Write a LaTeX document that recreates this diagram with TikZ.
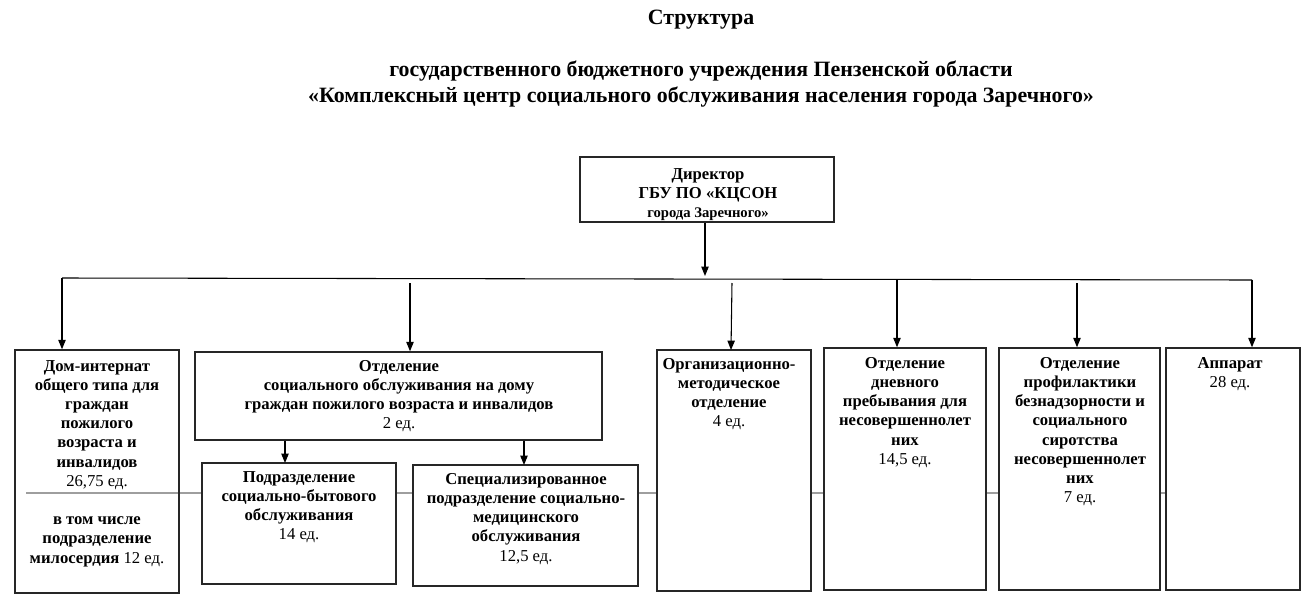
\documentclass[tikz,border=0pt]{standalone}
\usepackage{fontspec}
\setmainfont{Liberation Serif}
\usetikzlibrary{arrows.meta,fit}

\tikzset{
  box/.style={draw=black!85, line width=1.1pt, inner sep=0pt, fill=white},
  hollowbox/.style={draw=black!85, line width=1.1pt, inner sep=0pt},
  txt/.style={anchor=north, inner sep=0pt, align=center, font=\fontsize{12.5}{14.4}\selectfont\bfseries},
  titletxt/.style={anchor=north, inner sep=0pt, align=center, font=\fontsize{16.4}{19.5}\selectfont\bfseries},
  conn/.style={line width=0.8pt},
  arr/.style={line width=0.8pt, -{Triangle[length=7pt,width=5.5pt]}},
  grayline/.style={draw=black!38, line width=1.6pt}
}
\newcommand{\ed}[1]{\mdseries #1}

\begin{document}
\begin{tikzpicture}[x=0.75pt,y=0.75pt,yscale=-1,xscale=1]
\useasboundingbox (0,0) rectangle (1311,604);

% Title
\node[titletxt] (title) at (701,10) {Структура};
\node[titletxt] (subtitle) at (701,61)
  {государственного бюджетного учреждения Пензенской области\\
   «Комплексный центр социального обслуживания населения города Заречного»};

% Gray line behind the boxes
\coordinate (grayL) at (26,493);
\coordinate (grayR) at (1250,493);
\draw[grayline] (grayL) -- (grayR);

% Boxes
\node[box, fit={(580,157) (834,222)}] (dir) {};
\node[hollowbox, fit={(15,350) (179,593)}] (dom) {};
\node[box, fit={(195,352) (602,440)}] (otd) {};
\node[box, fit={(202,463) (396,584)}] (sub1) {};
\node[box, fit={(413,465) (638,586)}] (sub2) {};
\node[box, fit={(657,350) (811,591)}] (org) {};
\node[box, fit={(824,348) (986,590)}] (dnev) {};
\node[box, fit={(999,348) (1160,590)}] (prof) {};
\node[box, fit={(1166,348) (1300,590)}] (app) {};

% Text Node
\node[txt] (dir-t) at (708,168) {Директор\\ГБУ ПО «КЦСОН\\{\fontsize{11}{13.8}\selectfont города Заречного»}};
% Text Node
\node[txt] (dom-t) at (97,360) {Дом-интернат\\общего типа для\\граждан\\пожилого\\возраста и\\инвалидов\\\ed{26,75 ед.}\\[14.4pt]
  в том числе\\подразделение\\милосердия \ed{12 ед.}};
% Text Node
\node[txt] (otd-t) at (399,360) {Отделение\\социального обслуживания на дому\\граждан пожилого возраста и инвалидов\\\ed{2 ед.}};
% Text Node
\node[txt] (sub1-t) at (299,471) {Подразделение\\социально-бытового\\обслуживания\\\ed{14 ед.}};
% Text Node
\node[txt] (sub2-t) at (526,473) {Специализированное\\подразделение социально-\\медицинского\\обслуживания\\\ed{12,5 ед.}};
% Text Node
\node[txt] (org-t) at (729,358) {Организационно-\\методическое\\отделение\\\ed{4 ед.}};
% Text Node
\node[txt] (dnev-t) at (905,357) {Отделение\\дневного\\пребывания для\\несовершеннолет\\них\\\ed{14,5 ед.}};
% Text Node
\node[txt] (prof-t) at (1080,357) {Отделение\\профилактики\\безнадзорности и\\социального\\сиротства\\несовершеннолет\\них\\\ed{7 ед.}};
% Text Node
\node[txt] (app-t) at (1230,357) {Аппарат\\\ed{28 ед.}};

% Bus
\coordinate (busL) at (62,278);
\coordinate (busR) at (1252,280);
\coordinate (otd-top) at (410,283);
\coordinate (org-top) at (732,283);
\coordinate (dnev-top) at (897,279);
\coordinate (prof-top) at (1077,283);

% Straight Lines
\draw[arr] (dir.south -| 705,0) -- (705,276);
\draw[conn] (busL) -- (busR);
\draw[arr] (busL) -- (busL |- dom.north);
\draw[arr] (busR) -- (busR |- app.north);
\draw[arr] (otd-top) -- (otd-top |- otd.north);
\draw[arr] (org-top) -- (731,350);
\draw[arr] (dnev-top) -- (dnev-top |- dnev.north);
\draw[arr] (prof-top) -- (prof-top |- prof.north);
\draw[arr] (otd.south -| 285,0) -- (285,463);
\draw[arr] (otd.south -| 524,0) -- (524,465);

\end{tikzpicture}
\end{document}
